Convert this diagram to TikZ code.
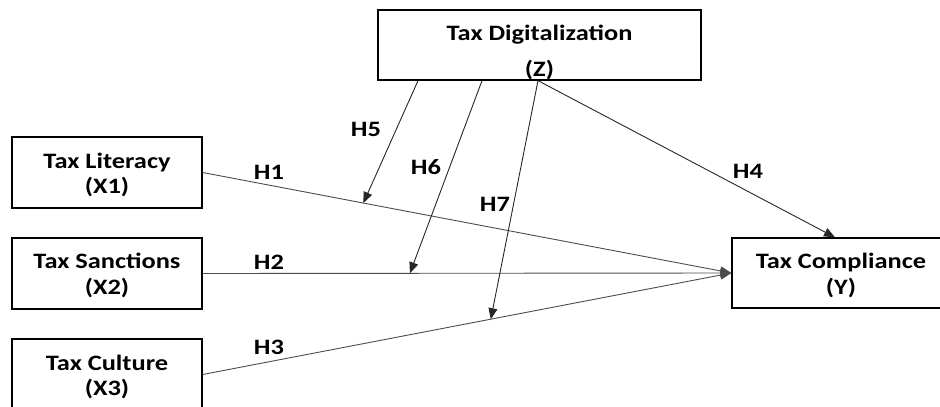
\documentclass[tikz,border=0pt]{standalone}
\usepackage{fontspec}
\setmainfont{Carlito}
\newfontfamily\diagfont[FakeStretch=1.2]{Carlito}
\usetikzlibrary{arrows.meta,calc}
\begin{document}
\begin{tikzpicture}[x=1pt,y=-1pt,
  box/.style={draw=black, line width=1.3pt, fill=white, align=center, inner sep=0pt, text depth=0pt},
  tx/.style={font=\diagfont\bfseries\fontsize{22}{#1}\selectfont},
  link/.style={draw=black!70, line width=0.9pt},
  tip/.style={-{Triangle[length=11pt,width=9pt]}},
  modarrow/.style={draw=black!85, line width=0.9pt, tip},
  hlab/.style={font=\diagfont\bfseries\fontsize{22}{24}\selectfont, inner sep=0pt}]
\useasboundingbox (0,0) rectangle (940,407);
\node[box, tx=25, text height=41pt, minimum width=190pt, minimum height=71pt] (x1) at (107,172.5) {Tax Literacy\\(X1)};
\node[box, tx=26, text height=41pt, minimum width=190pt, minimum height=71pt] (x2) at (107,273.5) {Tax Sanctions\\(X2)};
\node[box, tx=25, text height=41pt, minimum width=190pt, minimum height=71pt] (x3) at (107,374.5) {Tax Culture\\(X3)};
\node[box, tx=36, text height=62pt, minimum width=323pt, minimum height=70pt] (z) at (539.5,45) {Tax Digitalization\\(Z)};
\node[box, tx=26, text height=42pt, minimum width=218pt, minimum height=70pt] (y) at (841,273) {Tax Compliance\\(Y)};
\coordinate (yin) at (y.west);
\coordinate (z5) at ([xshift=-121.5pt]z.south);
\coordinate (z6) at ([xshift=-57.5pt]z.south);
\coordinate (z7) at ([xshift=-1.5pt]z.south);
\coordinate (ytop) at ([xshift=-6pt]y.north);
\path (x1.east) -- (yin) coordinate[pos=0.304] (m5);
\path (x2.east) -- (yin) coordinate[pos=0.392] (m6);
\path (x3.east) -- (yin) coordinate[pos=0.545] (m7);
\draw[link, tip] (x3.east) -- (yin);
\draw[link, tip] (x1.east) -- (yin);
\draw[link, tip] (x2.east) -- (yin);
\draw[modarrow] (z5) -- (m5);
\draw[modarrow] (z6) -- (m6);
\draw[modarrow] (z7) -- (m7);
\draw[modarrow] (z7) -- (ytop);
\node[hlab] (h1) at (269,172) {H1};
\node[hlab] (h2) at (269,262) {H2};
\node[hlab] (h3) at (269,347) {H3};
\node[hlab] (h4) at (748,171) {H4};
\node[hlab] (h5) at (366,129) {H5};
\node[hlab] (h6) at (426,167) {H6};
\node[hlab] (h7) at (495,204) {H7};
\end{tikzpicture}
\end{document}
